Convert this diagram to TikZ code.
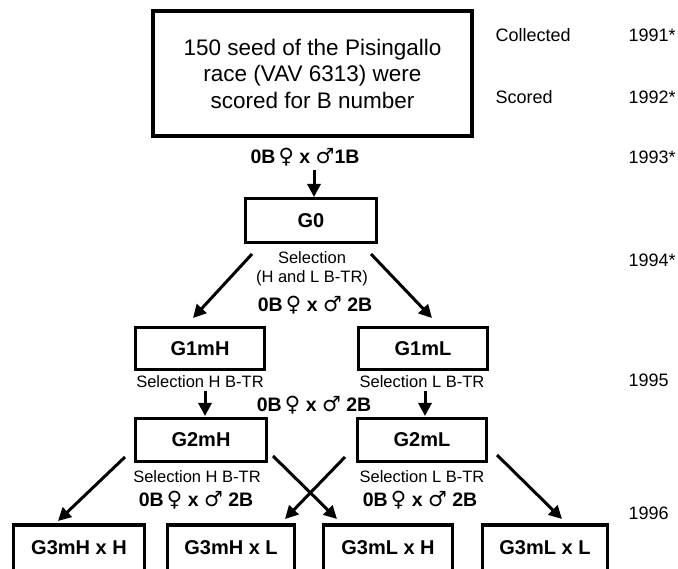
\documentclass[tikz,border=0pt]{standalone}
\usepackage{fontspec}
\setmainfont{Liberation Sans}
\newfontfamily\symfont{DejaVu Sans}
\usetikzlibrary{arrows.meta}
\newcommand\femsym{\,{\symfont\mdseries\fontsize{21}{21}\selectfont ♀}}
\newcommand\malsym{{\symfont\mdseries\fontsize{21}{21}\selectfont ♂}}
\begin{document}
\begin{tikzpicture}[x=1pt,y=-1pt,
  box/.style={draw, line width=3.2pt, inner sep=0pt, font=\fontsize{20}{24}\selectfont\bfseries},
  arr/.style={line width=3pt, -{Triangle[length=13pt,width=13pt]}},
  lab/.style={font=\fontsize{16.5}{19}\selectfont},
  cross/.style={font=\fontsize{19.5}{21}\selectfont\bfseries},
  side/.style={font=\fontsize{18}{21}\selectfont, anchor=west}]
\clip (0,0) rectangle (678,569);
\fill[white] (0,0) rectangle (678,569);
% boxes
\node[box, minimum width=319pt, minimum height=125pt, align=center,
      font=\fontsize{22.5}{26.5}\selectfont] (top) at (312.5,73.5)
      {150 seed of the Pisingallo\\race (VAV 6313) were\\scored for B number};
\node[box, minimum width=131pt, minimum height=44pt] (g0) at (311,220.5) {G0};
\node[box, minimum width=129pt, minimum height=42pt] (g1h) at (200,348.5) {G1mH};
\node[box, minimum width=129pt, minimum height=42pt] (g1l) at (423,348.5) {G1mL};
\node[box, minimum width=131pt, minimum height=43pt] (g2h) at (201,440) {G2mH};
\node[box, minimum width=129pt, minimum height=43pt] (g2l) at (422,440) {G2mL};
\node[box, minimum width=131pt, minimum height=46pt] (g3hh) at (79,548) {G3mH x H};
\node[box, minimum width=127pt, minimum height=46pt] (g3hl) at (231,548) {G3mH x L};
\node[box, minimum width=129pt, minimum height=46pt] (g3lh) at (388,548) {G3mL x H};
\node[box, minimum width=125pt, minimum height=46pt] (g3ll) at (545,548) {G3mL x L};
% labels
\node[cross] (c0) at (305,157) {0B\femsym{} x \malsym1B};
\node[lab, align=center] (s0) at (312,269) {Selection\\(H and L B-TR)};
\node[cross] (c1) at (315,305) {0B\femsym{} x \malsym{} 2B};
\node[lab] (s1h) at (200,382) {Selection H B-TR};
\node[lab] (s1l) at (422,382) {Selection L B-TR};
\node[cross] (c2) at (314,405) {0B\femsym{} x \malsym{} 2B};
\node[lab] (s2h) at (197,477) {Selection H B-TR};
\node[lab] (s2l) at (422,477) {Selection L B-TR};
\node[cross] (c3h) at (196,500) {0B\femsym{} x \malsym{} 2B};
\node[cross] (c3l) at (420,500) {0B\femsym{} x \malsym{} 2B};
% side column
\node[side] (col) at (492,35) {Collected};
\node[side] (sco) at (492,97) {Scored};
\node[side] (y91) at (625,35) {1991*};
\node[side] (y92) at (625,97) {1992*};
\node[side] (y93) at (625,157) {1993*};
\node[side] (y94) at (625,260) {1994*};
\node[side] (y95) at (625,380) {1995};
\node[side] (y96) at (625,513) {1996};
% arrow end points
\coordinate (a0s) at (314,170);
\coordinate (a0e) at (314,197);
\coordinate (ls) at (252,254);
\coordinate (le) at (193,318);
\coordinate (rs) at (371,254);
\coordinate (re) at (432,318);
\coordinate (hs) at (205,391);
\coordinate (he) at (205,416);
\coordinate (lls) at (425,391);
\coordinate (lle) at (425,416);
\coordinate (b1s) at (125,457);
\coordinate (b1e) at (58,521);
\coordinate (b2s) at (273,456);
\coordinate (b2e) at (337,519);
\coordinate (b3s) at (345,457);
\coordinate (b3e) at (285,519);
\coordinate (b4s) at (497,455);
\coordinate (b4e) at (562,519);
\draw[arr] (a0s) -- (a0e);
\draw[arr] (ls) -- (le);
\draw[arr] (rs) -- (re);
\draw[arr] (hs) -- (he);
\draw[arr] (lls) -- (lle);
\draw[arr] (b1s) -- (b1e);
\draw[arr] (b2s) -- (b2e);
\draw[arr] (b3s) -- (b3e);
\draw[arr] (b4s) -- (b4e);
\end{tikzpicture}
\end{document}
